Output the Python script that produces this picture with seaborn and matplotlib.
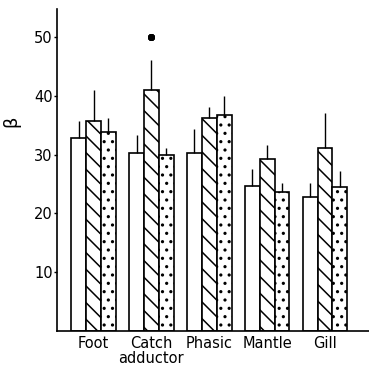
import pandas as pd
import matplotlib
matplotlib.use("Agg")
import matplotlib.pyplot as plt
import seaborn as sns

# Werte
muscles = ['Foot', 'Catch\nadductor', 'Phasic', 'Mantle', 'Gill']
conditions = ['open', 'hatched', 'dotted']
beta_open = [32.9, 30.3, 30.2, 24.7, 22.7]
beta_hatched = [35.7, 41.1, 36.3, 29.3, 31.2]
beta_dotted = [33.8, 29.9, 36.7, 23.6, 24.5]
err_open = [2.9, 3.1, 4.1, 2.9, 2.5]
err_hatched = [5.4, 5.1, 1.8, 2.3, 5.9]
err_dotted = [2.5, 1.3, 3.3, 1.5, 2.7]
star_muscle = 1
star_y = 50
y_ticks = [10, 20, 30, 40, 50]

df = pd.DataFrame({
    'muscle': muscles * 3,
    'condition': [c for c in conditions for _ in muscles],
    'beta': beta_open + beta_hatched + beta_dotted,
})
errors = [err_open, err_hatched, err_dotted]
hatches = ['', '\\\\', '..']

sns.set_style("ticks")
plt.rcParams['font.family'] = ['Liberation Sans Narrow', 'DejaVu Sans']
plt.rcParams['text.color'] = 'black'
plt.rcParams['xtick.color'] = 'black'
plt.rcParams['ytick.color'] = 'black'
plt.rcParams['axes.edgecolor'] = 'black'
plt.rcParams['axes.labelcolor'] = 'black'
plt.rcParams['hatch.color'] = 'black'
plt.rcParams['hatch.linewidth'] = 1.1

fig = plt.figure(figsize=(3.69, 3.66), dpi=100)
ax = fig.add_axes([0.154, 0.0965, 0.846, 0.8785])

sns.barplot(data=df, x='muscle', y='beta', hue='condition',
            palette=['white'] * 3, edgecolor='black', linewidth=1.2,
            width=0.77, errorbar=None, legend=False, ax=ax)

for cont, err, h in zip(ax.containers, errors, hatches):
    for bar, e in zip(cont, err):
        bar.set_hatch(h)
        xc = bar.get_x() + bar.get_width() / 2
        top = bar.get_height()
        ax.vlines(xc, top, top + e, color='black', linewidth=1.0)

# Stern über Catch adductor (schraffiert)
ax.plot(star_muscle, star_y, marker=(8, 2, 0), markersize=5,
        color='black', markeredgewidth=1.8)

ax.set_xlim(-0.634, 4.76)
ax.set_ylim(0, 54.8)
ax.set_yticks(y_ticks)
ax.tick_params(axis='y', direction='out', length=2, width=1, labelsize=10.5, pad=1)
ax.tick_params(axis='x', length=0, labelsize=10.5, pad=4)
for lab in ax.get_xticklabels():
    lab.set_linespacing(0.95)
ax.set_xlabel('')
ax.set_ylabel('β', fontsize=13)
ax.yaxis.set_label_coords(-0.118, 0.65)

for side in ['top', 'right']:
    ax.spines[side].set_visible(False)
for side in ['left', 'bottom']:
    ax.spines[side].set_linewidth(1.2)

fig.savefig('out.png', dpi=100)
